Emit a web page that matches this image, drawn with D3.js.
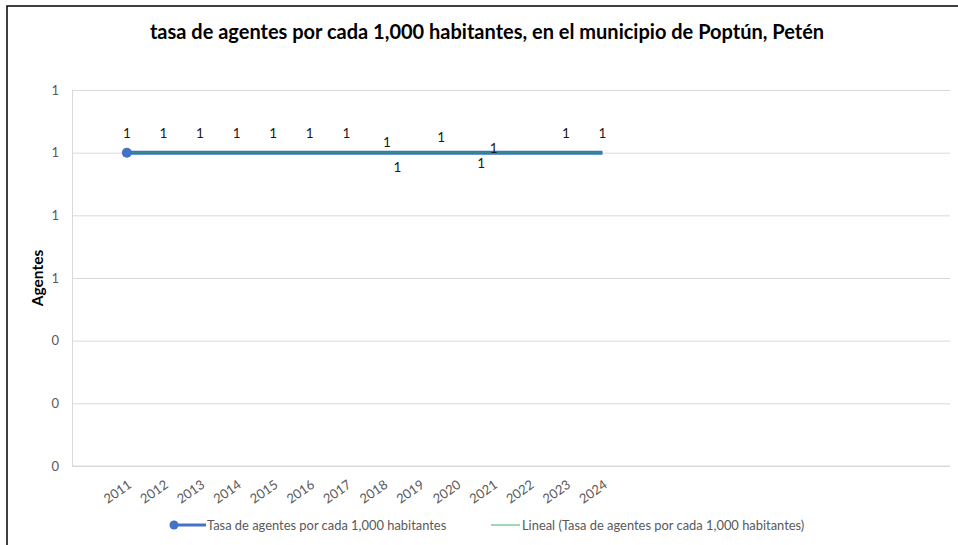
<!DOCTYPE html>
<html>
<head>
<meta charset="utf-8">
<script src="https://cdn.jsdelivr.net/npm/d3@7"></script>
<style>
  html, body { margin: 0; padding: 0; background: #fff; }
  svg { display: block; }
</style>
</head>
<body>
<svg id="chart" width="958" height="545"></svg>
<script>
// Years shown on the category axis
const years = ["2011","2012","2013","2014","2015","2016","2017","2018","2019","2020","2021","2022","2023","2024"];
// Rate of agents per 1,000 inhabitants
const rates = [1.0, 1.0, 1.0, 1.0, 1.0, 1.0, 1.0, 1.0, 1.0, 1.0, 1.0, 1.0, 1.0, 1.0];
// Value axis ticks
const yTicks = [0, 0.2, 0.4, 0.6, 0.8, 1.0, 1.2];
// Legend entries
const legendLabels = ["Tasa de agentes por cada 1,000 habitantes", "Lineal (Tasa de agentes por cada 1,000 habitantes)"];
// Nudges for data labels that were moved off the line (pixels)
const labelNudge = [[0,-19],[0,-19],[0,-19],[0,-19],[0,-19],[0,-19],[0,-19],
                    [4,-10],[-22,15],[-15,-15],[1,-4],[-48,11],[0,-19],[0,-19]];

const svg = d3.select("#chart");
const plot = {left: 72, right: 950, top: 90, bottom: 466};
const slotCount = 24, leadSlots = 1;
const uiFont = "Lato, 'Liberation Sans', Arial, sans-serif";

// Outer frame of the chart
svg.append("rect").attr("x", 7).attr("y", 6).attr("width", 1000).attr("height", 600)
  .attr("fill", "#fff").attr("stroke", "#000").attr("stroke-width", 1.5);

svg.append("text").attr("x", 487).attr("y", 39).attr("text-anchor", "middle")
  .attr("font-family", uiFont).attr("font-weight", "bold")
  .attr("font-size", 20).attr("fill", "#000")
  .text("tasa de agentes por cada 1,000 habitantes, en el municipio de Poptún, Petén");

const slots = d3.scaleBand().domain(d3.range(slotCount)).range([plot.left, plot.right]);
const xPos = i => slots(i + leadSlots) + slots.bandwidth() / 2;
const y = d3.scaleLinear().domain([0, 1.2]).range([plot.bottom, plot.top]);

// Gridlines and value axis
const yAxis = d3.axisLeft(y).tickValues(yTicks).tickFormat(d3.format(".0f"))
  .tickSize(-(plot.right - plot.left)).tickPadding(13);
const gy = svg.append("g").attr("transform", `translate(${plot.left},0)`).call(yAxis);
gy.select(".domain").attr("stroke", "#d9d9d9");
gy.selectAll(".tick line").attr("stroke", "#d9d9d9").attr("stroke-width", 1);
gy.selectAll(".tick text").attr("fill", "#595959").attr("font-size", 13)
  .attr("font-family", uiFont);

// Category axis
const gx = svg.append("g").attr("transform", `translate(0,${plot.bottom})`);
gx.append("line").attr("x1", plot.left).attr("x2", plot.right).attr("stroke", "#d9d9d9");
gx.selectAll("text").data(years).join("text")
  .attr("transform", (d, i) => `translate(${xPos(i) + 3},${17}) rotate(-35)`)
  .attr("text-anchor", "end").attr("dy", "0.35em")
  .attr("font-size", 13).attr("fill", "#595959")
  .attr("font-family", uiFont)
  .text(d => d);

svg.append("text").attr("transform", `translate(43,278) rotate(-90)`)
  .attr("text-anchor", "middle").attr("font-weight", "bold").attr("font-size", 15.5)
  .attr("font-family", uiFont).attr("fill", "#000")
  .text("Agentes");

// Series line
const line = d3.line().x((d, i) => xPos(i)).y(d => y(d));
svg.append("path").datum(rates).attr("d", line).attr("fill", "none")
  .attr("stroke", "#3d72bf").attr("stroke-width", 4);

// Linear trend line (least squares on the series)
const n = rates.length;
const mx = d3.mean(d3.range(n)), my = d3.mean(rates);
const sxx = d3.sum(d3.range(n), i => (i - mx) ** 2);
const slope = sxx ? d3.sum(d3.range(n), i => (i - mx) * (rates[i] - my)) / sxx : 0;
const trend = d3.range(n).map(i => my + slope * (i - mx));
svg.append("path").datum(trend).attr("d", line).attr("fill", "none")
  .attr("stroke", "#2f8f86").attr("stroke-width", 1.2).attr("opacity", 0.8);

// Marker on the first point
svg.append("circle").attr("cx", xPos(0)).attr("cy", y(rates[0])).attr("r", 5).attr("fill", "#4472c4");

// Data labels
svg.append("g").selectAll("text").data(rates).join("text")
  .attr("x", (d, i) => xPos(i) + labelNudge[i][0])
  .attr("y", (d, i) => y(d) + labelNudge[i][1])
  .attr("dy", "0.35em").attr("text-anchor", "middle")
  .attr("font-size", 13.5).attr("fill", "#1a1a1a")
  .attr("font-family", uiFont)
  .text(d => d3.format(".0f")(d));

// Legend
const lg = svg.append("g").attr("font-family", uiFont)
  .attr("font-size", 12.9).attr("fill", "#595959");
lg.append("line").attr("x1", 173).attr("x2", 206).attr("y1", 525).attr("y2", 525)
  .attr("stroke", "#4472c4").attr("stroke-width", 3);
lg.append("circle").attr("cx", 174).attr("cy", 525).attr("r", 4.5).attr("fill", "#4472c4");
lg.append("text").attr("x", 207).attr("y", 525).attr("dy", "0.35em").text(legendLabels[0]);
lg.append("line").attr("x1", 491).attr("x2", 520).attr("y1", 525).attr("y2", 525)
  .attr("stroke", "#5cc07e").attr("stroke-width", 1.2);
lg.append("text").attr("x", 522).attr("y", 525).attr("dy", "0.35em").text(legendLabels[1]);
</script>
</body>
</html>
